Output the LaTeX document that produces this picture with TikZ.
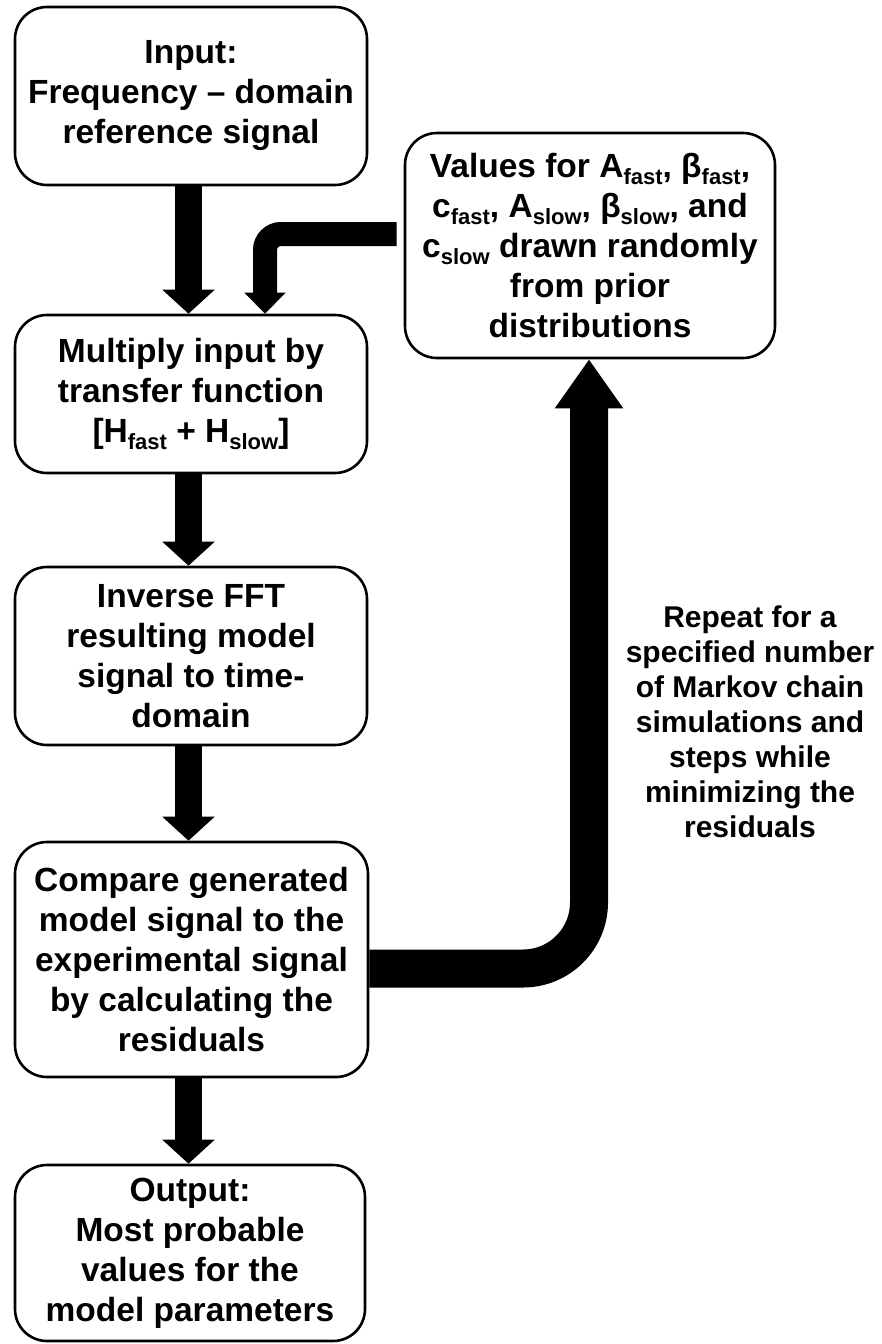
\documentclass[tikz,border=0pt]{standalone}
\usepackage{fontspec}
\setmainfont{Liberation Sans}
\usetikzlibrary{arrows.meta}
\newcommand\lowsub[1]{\raisebox{-7pt}{\fontsize{22}{22}\selectfont #1}}
\tikzset{
  box/.style={draw=black, line width=2.6pt, rounded corners=32pt, fill=white,
    align=center, inner sep=0pt, minimum width=352pt,
    font=\fontsize{33.5}{40}\selectfont\bfseries},
  flowarrow/.style={line width=27pt, -{Triangle[width=51pt,length=24pt]}},
  backarrow/.style={line width=24pt, rounded corners=16pt, -{Triangle[width=40pt,length=21pt]}},
  looparrow/.style={line width=38pt, rounded corners=66pt, -{Triangle[width=65pt,length=49pt]}},
  note/.style={align=center, inner sep=0pt, font=\fontsize{30}{35}\selectfont\bfseries}
}
\begin{document}
\begin{tikzpicture}[x=1pt,y=1pt]
\useasboundingbox (0,0) rectangle (881,-1344);
\node[box, minimum height=178pt] (b1) at (191,-96) {Input:\\Frequency -- domain\\reference signal};
\node[box, minimum height=158pt] (b2) at (191,-394) {Multiply input by\\transfer function\\{}[H\lowsub{fast} + H\lowsub{slow}]};
\node[box, minimum height=178pt] (b3) at (191,-656) {Inverse FFT\\resulting model\\signal to time-\\domain};
\node[box, minimum height=235pt, minimum width=353pt] (b4) at (191.5,-959.5) {Compare generated\\model signal to the\\experimental signal\\by calculating the\\residuals};
\node[box, minimum height=176pt, minimum width=350pt] (b5) at (190,-1253) {Output:\\Most probable\\values for the\\model parameters};
\node[box, minimum height=225pt, minimum width=370pt] (vals) at (590,-245.5) {Values for A\lowsub{fast}, β\lowsub{fast},\\c\lowsub{fast}, A\lowsub{slow}, β\lowsub{slow}, and\\c\lowsub{slow} drawn randomly\\from prior\\distributions};
\node[note] (rep) at (750,-722) {Repeat for a\\specified number\\of Markov chain\\simulations and\\steps while\\minimizing the\\residuals};
\coordinate (fx) at (188.5,0);
\draw[flowarrow] (b1.south -| fx) -- (b2.north -| fx);
\draw[flowarrow] (b2.south -| fx) -- (b3.north -| fx);
\draw[flowarrow] (b3.south -| fx) -- (b4.north -| fx);
\draw[flowarrow] (b4.south -| fx) -- (b5.north -| fx);
\coordinate (sb) at (265,-234);
\draw[backarrow] ([xshift=-7pt]vals.west |- sb) -| (b2.north -| sb);
\coordinate (lb) at (589,-968.5);
\draw[looparrow] (b4.east |- lb) -| (vals.south -| lb);
\end{tikzpicture}
\end{document}
